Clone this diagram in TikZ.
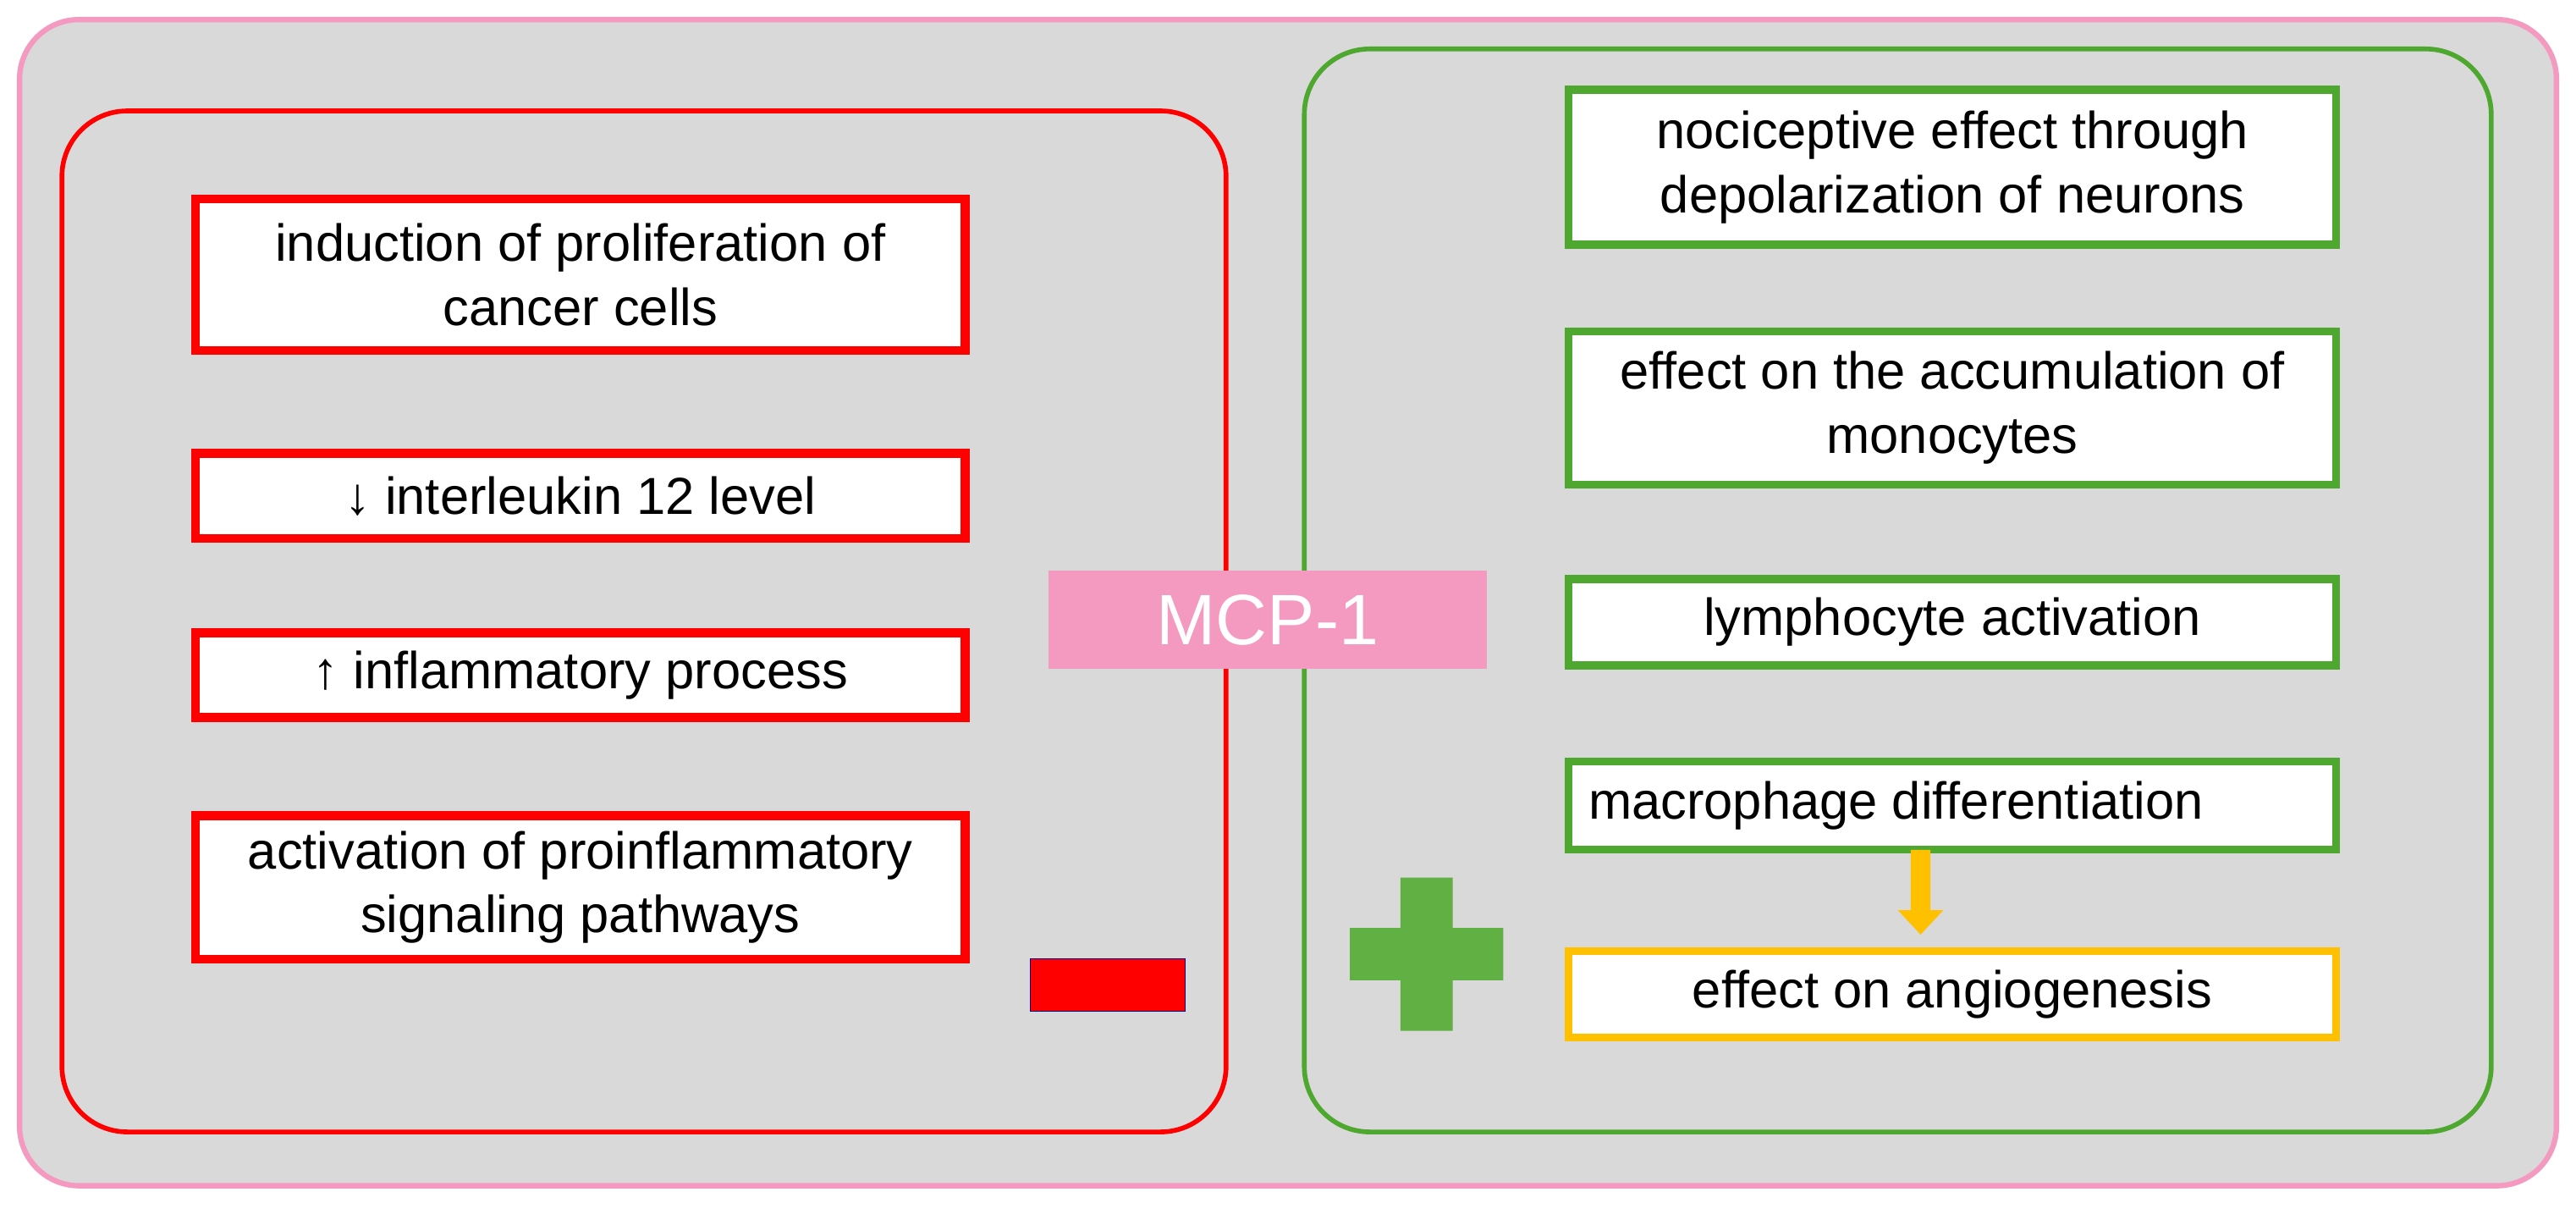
\documentclass[tikz,border=0pt]{standalone}
\usepackage{fontspec}
\setmainfont{Liberation Sans}
\usetikzlibrary{arrows.meta}
\definecolor{pinkc}{HTML}{F49AC1}
\definecolor{greyc}{HTML}{D9D9D9}
\definecolor{redc}{HTML}{FF0000}
\definecolor{greenc}{HTML}{4EA72E}
\definecolor{orangec}{HTML}{FFC000}
\begin{document}
\begin{tikzpicture}[x=0.019266cm,y=-0.019266cm,
  rb/.style={draw=redc,line width=3pt,fill=white},
  gb/.style={draw=greenc,line width=2.6pt,fill=white},
  txt/.style={font=\fontsize{17.5}{21.5}\selectfont,align=center}]
\useasboundingbox (0,0) rectangle (1580,744);
\draw[pinkc,line width=1.8pt,fill=greyc,rounded corners=20pt] (12,12) rectangle (1568,727);
\draw[redc,line width=1.6pt,rounded corners=22pt] (38,68) rectangle (752,694);
\draw[greenc,line width=1.6pt,rounded corners=22pt] (800,30) rectangle (1528,694);
\draw[rb] (120,122) rectangle (592,215); \node[txt] (r1) at (356,168.5) {induction of proliferation of\\cancer cells};
\draw[rb] (120,278) rectangle (592,330); \node[txt] (r2) at (356,304) {↓ interleukin 12 level};
\draw[rb] (120,388) rectangle (592,440); \node[txt] (r3) at (356,414) {↑ inflammatory process};
\draw[rb] (120,500) rectangle (592,588); \node[txt] (r4) at (356,544) {activation of proinflammatory\\signaling pathways};
\draw[fill=redc,draw=blue!60!black,line width=0.3pt] (632,588) rectangle (727,620);
\fill[pinkc] (643,350) rectangle (912,410);
\node[txt,font=\fontsize{24}{28}\selectfont,text=white] (mcp) at (777.5,380) {MCP-1};
\draw[gb] (962,55) rectangle (1433,150); \node[txt] (g1) at (1197.5,102.5) {nociceptive effect through\\depolarization of neurons};
\draw[gb] (962,203) rectangle (1433,297); \node[txt] (g2) at (1197.5,250) {effect on the accumulation of\\monocytes};
\draw[gb] (962,355) rectangle (1433,408); \node[txt] (g3) at (1197.5,381.5) {lymphocyte activation};
\draw[gb] (962,467) rectangle (1433,521); \node[txt] (g4) at (1163,494) {macrophage differentiation};
\draw[draw=orangec,line width=2.6pt,fill=white] (962,583) rectangle (1433,636); \node[txt] (g5) at (1197.5,609.5) {effect on angiogenesis};
\fill[orangec] (1172,521) -- (1184,521) -- (1184,558) -- (1192,558) -- (1178,573) -- (1164,558) -- (1172,558) -- cycle;
\fill[greenc!90!white] (859,538) -- (891,538) -- (891,569) -- (922,569) -- (922,601) -- (891,601) -- (891,632) -- (859,632) -- (859,601) -- (828,601) -- (828,569) -- (859,569) -- cycle;
\end{tikzpicture}
\end{document}
